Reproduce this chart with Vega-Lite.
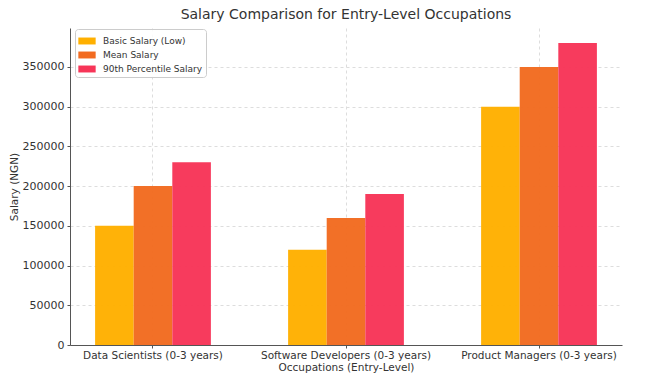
{
  "$schema": "https://vega.github.io/schema/vega-lite/v6.json",
  "width": 552,
  "height": 317,
  "autosize": {"type": "none"},
  "padding": {"left": 70, "top": 28, "right": 28, "bottom": 30},
  "background": "white",
  "title": {
    "text": "Salary Comparison for Entry-Level Occupations",
    "font": "DejaVu Sans",
    "fontSize": 14,
    "fontWeight": "normal",
    "color": "#333333",
    "anchor": "middle",
    "offset": 6
  },
  "config": {
    "view": {"stroke": null},
    "font": "DejaVu Sans"
  },
  "data": {
    "values": [
      {"occupation": "Data Scientists (0-3 years)", "category": "Basic Salary (Low)", "salary": 150000},
      {"occupation": "Data Scientists (0-3 years)", "category": "Mean Salary", "salary": 200000},
      {"occupation": "Data Scientists (0-3 years)", "category": "90th Percentile Salary", "salary": 230000},
      {"occupation": "Software Developers (0-3 years)", "category": "Basic Salary (Low)", "salary": 120000},
      {"occupation": "Software Developers (0-3 years)", "category": "Mean Salary", "salary": 160000},
      {"occupation": "Software Developers (0-3 years)", "category": "90th Percentile Salary", "salary": 190000},
      {"occupation": "Product Managers (0-3 years)", "category": "Basic Salary (Low)", "salary": 300000},
      {"occupation": "Product Managers (0-3 years)", "category": "Mean Salary", "salary": 350000},
      {"occupation": "Product Managers (0-3 years)", "category": "90th Percentile Salary", "salary": 380000}
    ]
  },
  "mark": {"type": "bar", "opacity": 0.97},
  "encoding": {
    "x": {
      "field": "occupation",
      "type": "nominal",
      "sort": ["Data Scientists (0-3 years)", "Software Developers (0-3 years)", "Product Managers (0-3 years)"],
      "scale": {"paddingInner": 0.4, "paddingOuter": 0.13},
      "axis": {
        "title": "Occupations (Entry-Level)",
        "labelAngle": 0,
        "labelFontSize": 10.5,
        "labelColor": "#333333",
        "titleFontSize": 10.5,
        "titleFontWeight": "normal",
        "titleColor": "#333333",
        "titlePadding": 2,
        "labelPadding": 2,
        "bandPosition": 0.5,
        "grid": true,
        "gridDash": [3, 3],
        "gridColor": "#dddddd",
        "tickColor": "#555555",
        "tickSize": 3,
        "domainColor": "#555555"
      }
    },
    "xOffset": {
      "field": "category",
      "type": "nominal",
      "sort": ["Basic Salary (Low)", "Mean Salary", "90th Percentile Salary"],
      "scale": {"paddingInner": 0, "paddingOuter": 0}
    },
    "y": {
      "field": "salary",
      "type": "quantitative",
      "scale": {"domain": [0, 399000], "nice": false, "zero": true},
      "axis": {
        "title": "Salary (NGN)",
        "values": [0, 50000, 100000, 150000, 200000, 250000, 300000, 350000],
        "format": "d",
        "labelFontSize": 11,
        "labelColor": "#333333",
        "titleFontSize": 10.5,
        "titleFontWeight": "normal",
        "titleColor": "#333333",
        "titlePadding": 3,
        "labelPadding": 3,
        "grid": true,
        "gridDash": [3, 3],
        "gridColor": "#dddddd",
        "tickColor": "#555555",
        "tickSize": 3,
        "domainColor": "#555555"
      }
    },
    "color": {
      "field": "category",
      "type": "nominal",
      "sort": ["Basic Salary (Low)", "Mean Salary", "90th Percentile Salary"],
      "scale": {
        "domain": ["Basic Salary (Low)", "Mean Salary", "90th Percentile Salary"],
        "range": ["#FFB000", "#F26B20", "#F73558"]
      },
      "legend": {
        "title": null,
        "orient": "none",
        "legendX": 5,
        "legendY": 1,
        "direction": "vertical",
        "fillColor": "rgba(255,255,255,0.85)",
        "strokeColor": "#cccccc",
        "cornerRadius": 3,
        "padding": 3,
        "labelFontSize": 9,
        "labelColor": "#333333",
        "symbolType": "M-1,-0.4H1V0.4H-1Z",
        "symbolSize": 300,
        "symbolStrokeWidth": 0,
        "symbolOpacity": 1,
        "rowPadding": -5,
        "labelOffset": 7
      }
    }
  }
}
